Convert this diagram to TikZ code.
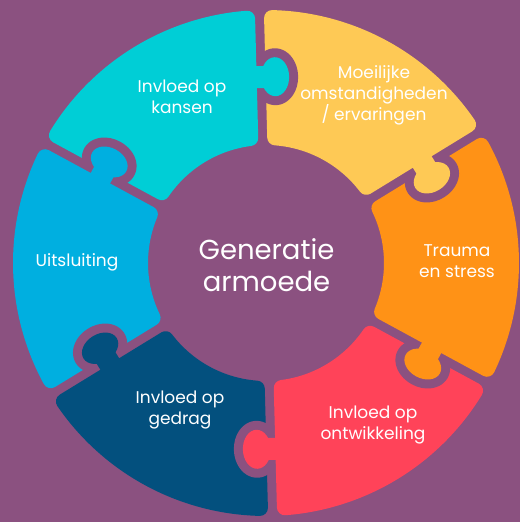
\documentclass[tikz,border=0pt]{standalone}
\usepackage{fontspec}
\setmainfont{Poppins}
\usepackage{tikz}
\definecolor{bgpurple}{HTML}{8B5180}
\definecolor{pzteal}{HTML}{00CED6}
\definecolor{pzyellow}{HTML}{FEC955}
\definecolor{pzorange}{HTML}{FF9216}
\definecolor{pzred}{HTML}{FF4359}
\definecolor{pzdarkblue}{HTML}{03507E}
\definecolor{pzlightblue}{HTML}{00AFE0}
\tikzset{
    piece/.style={line width=16pt, line join=round},
    notch/.style={fill=bgpurple, draw=bgpurple, line width=18pt, line join=round},
    label/.style={text=white, align=center, font=\fontsize{17}{21}\selectfont},
    title/.style={text=white, align=center, font=\fontsize{27.5}{32}\selectfont}
}

\begin{document}
\begin{tikzpicture}[x=1pt, y=1pt]
    \fill [bgpurple] (-266,-259) rectangle (254,263);
    \useasboundingbox (-266,-259) rectangle (254,263);
    \pgfmathsetmacro{\ain}{asin(12.5/126)}
    \pgfmathsetmacro{\aout}{asin(12.5/245)}

    \begin{scope}[rotate=1.5]
        % ring pieces
        \foreach \a/\col in {90/pzteal, 150/pzlightblue, 210/pzdarkblue, 270/pzred, 330/pzorange, 30/pzyellow} {
            \begin{scope}[rotate=\a]
                \filldraw [piece, fill=\col, draw=\col] (\ain:126) -- (\aout:245)
                    arc [start angle=\aout, end angle=60-\aout, radius=245]
                    -- ({60-\ain}:126)
                    arc [start angle=60-\ain, end angle=\ain, radius=126] -- cycle;
            \end{scope}
        }
        % tabs and notches
        \foreach \a/\col in {90/pzteal, 150/pzlightblue, 210/pzdarkblue, 270/pzred, 330/pzorange, 30/pzyellow} {
            \begin{scope}[rotate=\a]
                \begin{scope}
                    \clip (100,0) rectangle (280,-70);
                    \filldraw [notch] (186,-14) ellipse [x radius=19.5, y radius=14];
                    \filldraw [notch] (175,-4) rectangle (197,10);
                \end{scope}
                \fill [\col] (186,-14) ellipse [x radius=19.5, y radius=14];
                \fill [\col] (175,-4) rectangle (197,10);
            \end{scope}
        }
    \end{scope}

    \node [title] (generatie) at (0.5,-2.5) {Generatie\\armoede};
    \node [label] (kansen) at (-84,166) {Invloed op\\kansen};
    \node [label] (moeilijk) at (108,168) {Moeilijke\\omstandigheden\\/ ervaringen};
    \node [label] (trauma) at (191,2) {Trauma\\en stress};
    \node [label] (ontwikkeling) at (107,-162) {Invloed op\\ontwikkeling};
    \node [label] (gedrag) at (-86,-147) {Invloed op\\gedrag};
    \node [label] (uitsluiting) at (-189,1) {Uitsluiting};
\end{tikzpicture}
\end{document}
